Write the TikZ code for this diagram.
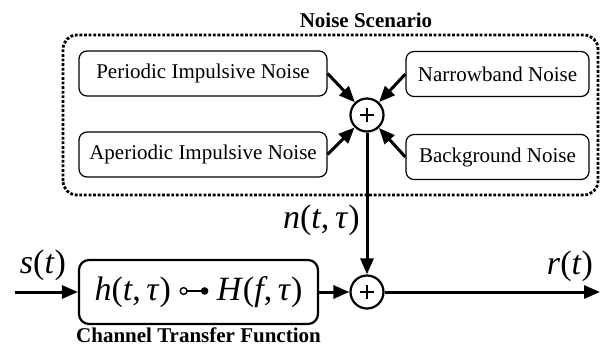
\documentclass[tikz,border=0pt]{standalone}
\usepackage{fontspec}
\setmainfont{Liberation Serif}
\usetikzlibrary{arrows.meta,positioning}

% transform pair symbol (open circle -- filled dot)
\newcommand{\corrsym}{\tikz[baseline=-0.6ex, line width=0.7pt]{%
  \draw (0,0) circle (1.7pt); \draw (1.7pt,0) -- (10pt,0);
  \fill (10.5pt,0) circle (1.9pt);}}

\begin{document}
\begin{tikzpicture}[
  x=1pt, y=1pt, >={Triangle[length=8pt,width=6.5pt]},
  box/.style={draw, rounded corners=4pt, line width=0.6pt,
              minimum height=22.5pt, inner sep=2pt,
              font=\fontsize{10.5}{12}\selectfont},
  chbox/.style={draw, rounded corners=5pt, line width=1.1pt,
                minimum width=119.5pt, minimum height=32pt, inner sep=1pt,
                font=\fontsize{17}{20}\selectfont},
  sum/.style={draw, circle, line width=1.1pt, minimum size=16.5pt,
              inner sep=0pt,
              path picture={\draw[line width=0.8pt]
                (path picture bounding box.center) ++(-3.4pt,0) -- ++(6.8pt,0)
                (path picture bounding box.center) ++(0,-3.4pt) -- ++(0,6.8pt);}},
  sig/.style={inner sep=1pt, font=\fontsize{17}{20}\selectfont},
  captxt/.style={inner sep=0.5pt, font=\bfseries\fontsize{10.5}{12}\selectfont},
  flow/.style={->, line width=1.5pt},
  scen/.style={line width=1.4pt, dash pattern=on 1.4pt off 0.9pt,
               rounded corners=7pt},
]
\useasboundingbox (0,0) rectangle (300,172.5);

% noise scenario frame
\draw[scen] (31.5,75) rectangle (299,155);
\node[captxt] (scentitle) at (183,162.5) {Noise Scenario};

\node[sum] (sumn) at (183.5,115) {};
\node[sum] (sumr) at (183.5,26.5) {};

\node[box, minimum width=124pt] (pin) at (101.5,135.75) {Periodic Impulsive Noise};
\node[box, minimum width=124pt] (ain) at (101.5,95.25) {Aperiodic Impulsive Noise};
\node[box, minimum width=91.5pt] (nbn) at (248.75,135.5) {Narrowband Noise};
\node[box, minimum width=91.5pt] (bgn) at (248.75,94) {Background Noise};

\node[chbox] (chan) at (99.25,26.5)
  {\textit{h}(\textit{t},\,\textit{τ}) \corrsym\ \textit{H}(\textit{f},\,\textit{τ})};
\node[captxt, below=0.8pt of chan] (chcap) {Channel Transfer Function};

\coordinate (sin) at (7.5,26.5);
\coordinate (rout) at (300,26.5);
\node[sig] (slab) at (21.5,40) {\textit{s}(\textit{t})};
\node[sig] (rlab) at (285,39.5) {\textit{r}(\textit{t})};
\node[sig, anchor=east] (nlab) at (181,62.5) {\textit{n}(\textit{t},\,\textit{τ})};

% noise sources into the sum
\draw[flow] (pin.east) -- (sumn);
\draw[flow] (ain.east) -- (sumn);
\draw[flow] (nbn.west) -- (sumn);
\draw[flow] (bgn.west) -- (sumn);

% main path
\draw[flow] (sumn) -- (sumr);
\draw[flow] (sin) -- (chan);
\draw[flow] (chan) -- (sumr);
\draw[flow] (sumr) -- (rout);

\end{tikzpicture}
\end{document}
